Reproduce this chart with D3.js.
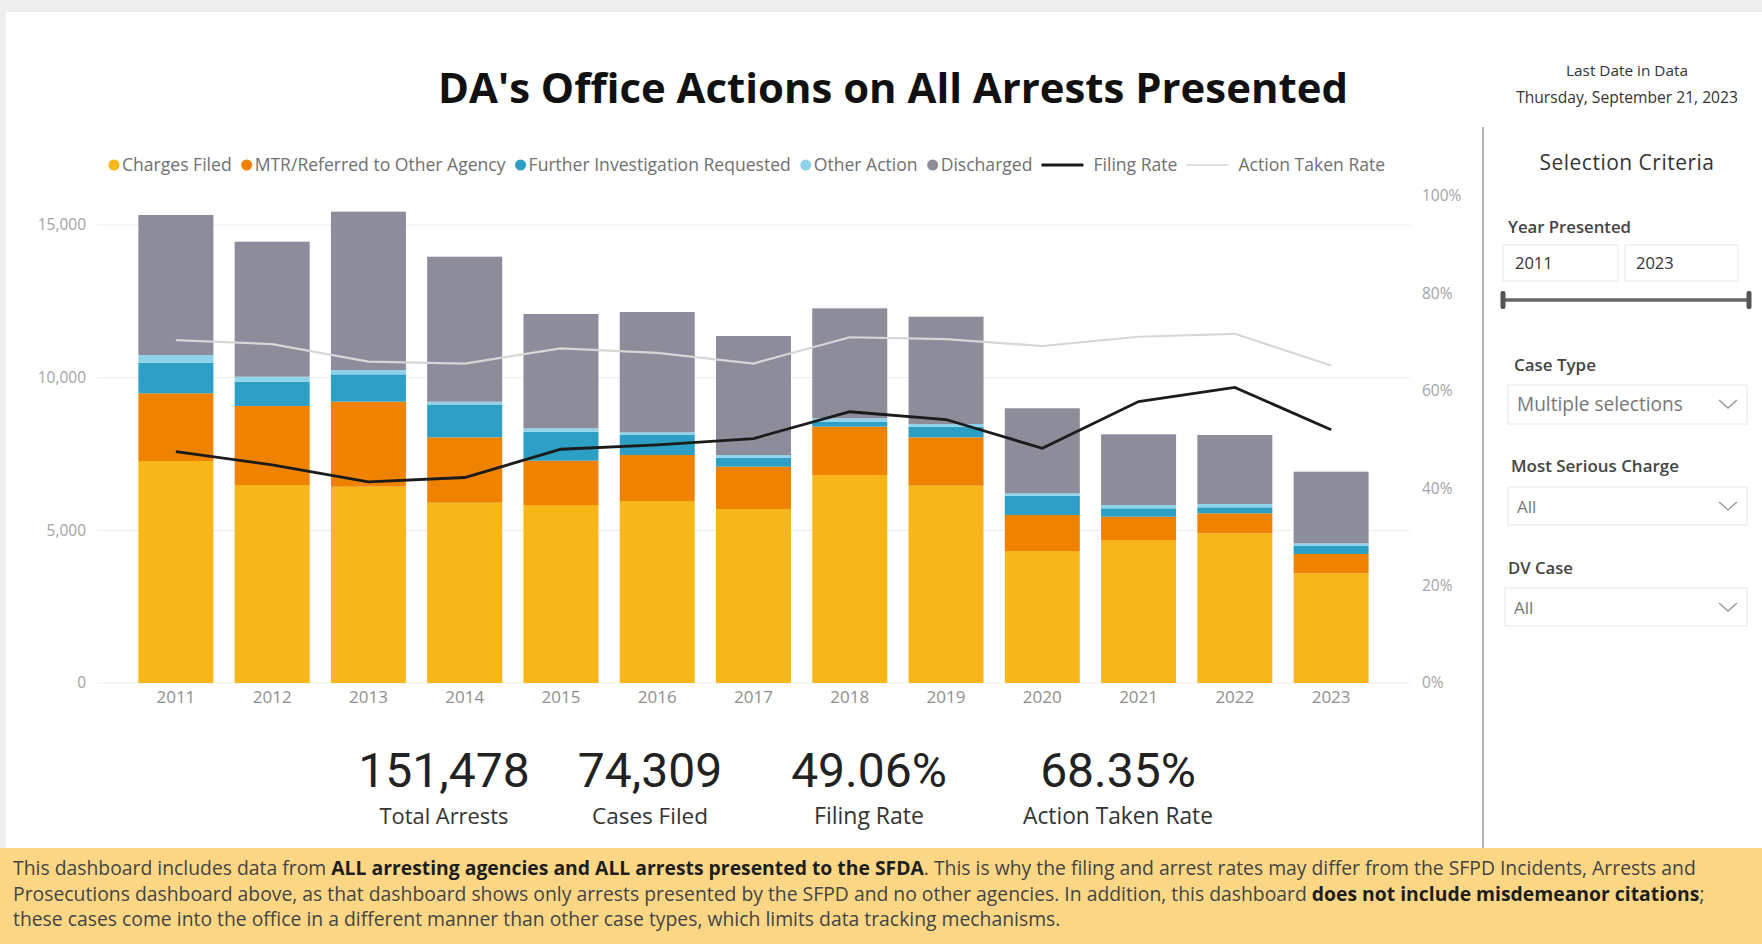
<!DOCTYPE html>
<html>
<head>
<meta charset="utf-8">
<script src="https://cdn.jsdelivr.net/npm/d3@7"></script>
<style>
  html, body { margin: 0; padding: 0; background: #fff; overflow: hidden; }
  svg { display: block; font-family: "Open Sans", sans-serif; }
</style>
</head>
<body>
<svg id="dash" width="1762" height="944"></svg>
<script>
// data
const years = [2011, 2012, 2013, 2014, 2015, 2016, 2017, 2018, 2019, 2020, 2021, 2022, 2023];
const chargesFiled = [7271, 6485, 6430, 5906, 5830, 5961, 5699, 6812, 6462, 4323, 4683, 4902, 3593];
const mtrReferred  = [2217, 2587, 2784, 2140, 1451, 1506, 1385, 1583, 1584, 1179, 764, 655, 632];
const furtherInv   = [1002, 797, 896, 1059, 950, 655, 295, 164, 349, 633, 274, 197, 262];
const otherAction  = [252, 163, 141, 109, 110, 88, 88, 109, 88, 78, 109, 108, 88];
const discharged   = [4586, 4422, 5186, 4749, 3744, 3941, 3898, 3603, 3514, 2784, 2315, 2260, 2346];
const filingRate   = [0.475, 0.448, 0.413, 0.422, 0.480, 0.489, 0.502, 0.557, 0.541, 0.482, 0.578, 0.607, 0.520];
const actionRate   = [0.704, 0.696, 0.660, 0.656, 0.687, 0.678, 0.656, 0.710, 0.706, 0.692, 0.711, 0.717, 0.652];
const leftTicks = [0, 5000, 10000, 15000];
const rightTicks = [0, 0.2, 0.4, 0.6, 0.8, 1.0];
const seriesNames = ["Charges Filed", "MTR/Referred to Other Agency", "Further Investigation Requested", "Other Action", "Discharged"];
const seriesColors = ["#f8b619", "#ef8300", "#2d9ec4", "#8fd3ea", "#8c8c9b"];
const kpiValues = ["151,478", "74,309", "49.06%", "68.35%"];
const kpiLabels = ["Total Arrests", "Cases Filed", "Filing Rate", "Action Taken Rate"];

const svg = d3.select("#dash");

// page background with the grey frame strips
svg.append("rect").attr("width", 1762).attr("height", 944).attr("fill", "#fff");
svg.append("rect").attr("width", 1762).attr("height", 12).attr("fill", "#efefef");
svg.append("rect").attr("width", 6).attr("height", 944).attr("fill", "#efefef");

// scale font size so a text fills a given width
function fitWidth(text, target) {
  let w = text.node().getComputedTextLength();
  let fs = parseFloat(text.style("font-size"));
  text.style("font-size", (fs * target / w) + "px");
}

// title
let title = svg.append("text")
  .attr("x", 893).attr("y", 103)
  .attr("text-anchor", "middle")
  .style("font-size", "38px").style("font-weight", 700)
  .attr("fill", "#111")
  .text("DA's Office Actions on All Arrests Presented");
fitWidth(title, 910);

let lastLbl = svg.append("text").attr("x", 1627).attr("y", 76).attr("text-anchor", "middle")
  .style("font-size", "14px").attr("fill", "#333").text("Last Date in Data");
fitWidth(lastLbl, 122);
let lastDate = svg.append("text").attr("x", 1627).attr("y", 103).attr("text-anchor", "middle")
  .style("font-size", "12.5px").attr("fill", "#333").text("Thursday, September 21, 2023");
fitWidth(lastDate, 222);

// ---- chart ----
const table = years.map((y, i) => ({
  year: y,
  "Charges Filed": chargesFiled[i],
  "MTR/Referred to Other Agency": mtrReferred[i],
  "Further Investigation Requested": furtherInv[i],
  "Other Action": otherAction[i],
  "Discharged": discharged[i]
}));
const stacked = d3.stack().keys(seriesNames)(table);

const xScale = d3.scaleBand()
  .domain(years)
  .range([97, 1410])
  .paddingInner(0.221)
  .paddingOuter(0.43);

const yScale = d3.scaleLinear().domain([0, 15950]).range([683, 196]);
const rScale = d3.scaleLinear().domain([0, 1]).range([683, 196]);

// gridlines
svg.append("g").selectAll("line")
  .data(leftTicks)
  .join("line")
  .attr("x1", 97).attr("x2", 1410)
  .attr("y1", d => yScale(d)).attr("y2", d => yScale(d))
  .attr("stroke", "#ececec").attr("stroke-width", 1);

// left axis
svg.append("g")
  .attr("transform", "translate(86,0)")
  .call(d3.axisLeft(yScale).tickValues(leftTicks).tickFormat(d3.format(",")).tickSize(0).tickPadding(0))
  .call(g => g.select(".domain").remove())
  .selectAll("text")
  .style("font-size", "15.5px").style("font-family", "Open Sans, sans-serif")
  .attr("fill", "#a3a3a3");

// right axis
svg.append("g")
  .attr("transform", "translate(1422,0)")
  .call(d3.axisRight(rScale).tickValues(rightTicks).tickFormat(d3.format(".0%")).tickSize(0).tickPadding(0))
  .call(g => g.select(".domain").remove())
  .selectAll("text")
  .style("font-size", "15.5px").style("font-family", "Open Sans, sans-serif")
  .attr("fill", "#a3a3a3");

// x axis
svg.append("g")
  .attr("transform", "translate(0,687)")
  .call(d3.axisBottom(xScale).tickSize(0).tickPadding(4))
  .call(g => g.select(".domain").remove())
  .selectAll("text")
  .style("font-size", "17px").style("font-family", "Open Sans, sans-serif")
  .attr("fill", "#8f8f8f");

// stacked bars
svg.append("g").selectAll("g")
  .data(stacked)
  .join("g")
  .attr("fill", (d, i) => seriesColors[i])
  .selectAll("rect")
  .data(d => d)
  .join("rect")
  .attr("x", d => xScale(d.data.year))
  .attr("width", xScale.bandwidth())
  .attr("y", d => yScale(d[1]))
  .attr("height", d => yScale(d[0]) - yScale(d[1]));

// rate lines
const rateLine = d3.line()
  .x((d, i) => xScale(years[i]) + xScale.bandwidth() / 2)
  .y(d => rScale(d));

svg.append("path").datum(actionRate)
  .attr("d", rateLine).attr("fill", "none")
  .attr("stroke", "#d6d6d6").attr("stroke-width", 2.2);

svg.append("path").datum(filingRate)
  .attr("d", rateLine).attr("fill", "none")
  .attr("stroke", "#1b1b1b").attr("stroke-width", 2.8);

// legend
const legendItems = seriesNames.map((n, i) => ({ name: n, color: seriesColors[i], type: "dot" }))
  .concat([{ name: "Filing Rate", color: "#1b1b1b", type: "line" },
           { name: "Action Taken Rate", color: "#d6d6d6", type: "line" }]);

let legend = svg.append("g").attr("transform", "translate(108,165)");
function drawLegend(fs) {
  legend.selectAll("*").remove();
  let x = 0;
  legendItems.forEach(it => {
    if (it.type == "dot") {
      legend.append("circle").attr("cx", x + 6).attr("cy", 0).attr("r", 5.5).attr("fill", it.color);
      x += 14;
    } else {
      legend.append("line").attr("x1", x).attr("x2", x + 42).attr("y1", 0).attr("y2", 0)
        .attr("stroke", it.color).attr("stroke-width", it.name == "Filing Rate" ? 3 : 1.5);
      x += 52;
    }
    let t = legend.append("text").attr("x", x).attr("y", 0).attr("dy", "0.35em")
      .style("font-size", fs + "px").attr("fill", "#707070").text(it.name);
    x += t.node().getComputedTextLength() + 9;
  });
  return x - 9;
}
let lw = drawLegend(16);
drawLegend(16 * (1278 - 14 * 5 - 52 * 2 - 54) / (lw - 14 * 5 - 52 * 2 - 54));

// KPI cards
const kpiX = [444, 650, 869, 1118];
const kpiLabelW = [129, 116, 110, 190];
kpiValues.forEach((v, i) => {
  svg.append("text").attr("x", kpiX[i]).attr("y", 787).attr("text-anchor", "middle")
    .style("font-family", "Roboto, sans-serif").style("font-size", "48px")
    .attr("fill", "#222").text(v);
  let l = svg.append("text").attr("x", kpiX[i]).attr("y", 824).attr("text-anchor", "middle")
    .style("font-size", "20px").attr("fill", "#333").text(kpiLabels[i]);
  fitWidth(l, kpiLabelW[i]);
});

// ---- selection panel ----
svg.append("line").attr("x1", 1483).attr("x2", 1483).attr("y1", 127).attr("y2", 870)
  .attr("stroke", "#9a9a9a").attr("stroke-width", 1.5);

let selTitle = svg.append("text").attr("x", 1627).attr("y", 170).attr("text-anchor", "middle")
  .style("font-size", "19px").style("letter-spacing", "0.5px").attr("fill", "#333").text("Selection Criteria");
fitWidth(selTitle, 176);

function panelLabel(x, y, txt, w) {
  let t = svg.append("text").attr("x", x).attr("y", y).style("font-size", "15px")
    .style("font-weight", 600).attr("fill", "#444").text(txt);
  fitWidth(t, w);
}
function box(x, y, w, h) {
  svg.append("rect").attr("x", x).attr("y", y).attr("width", w).attr("height", h)
    .attr("fill", "#fff").attr("stroke", "#e6e6e6");
}
function chevron(cx, cy) {
  svg.append("path").attr("d", `M${cx - 9},${cy - 4}L${cx},${cy + 4}L${cx + 9},${cy - 4}`)
    .attr("fill", "none").attr("stroke", "#999").attr("stroke-width", 1.4);
}

panelLabel(1508, 233, "Year Presented", 123);
box(1503, 245, 115, 36);
box(1625, 245, 113, 36);
svg.append("text").attr("x", 1515).attr("y", 269).style("font-size", "16.5px").attr("fill", "#333").text(years[0]);
svg.append("text").attr("x", 1636).attr("y", 269).style("font-size", "16.5px").attr("fill", "#333").text(years[years.length - 1]);
svg.append("line").attr("x1", 1503).attr("x2", 1749).attr("y1", 300).attr("y2", 300)
  .attr("stroke", "#666").attr("stroke-width", 3.5);
[1503, 1749].forEach(x => svg.append("rect").attr("x", x - 2.5).attr("y", 291).attr("width", 5)
  .attr("height", 18).attr("rx", 2).attr("fill", "#555"));

panelLabel(1514, 371, "Case Type", 82);
box(1508, 385, 239, 39);
let multi = svg.append("text").attr("x", 1517).attr("y", 411).style("font-size", "17px").attr("fill", "#777").text("Multiple selections");
fitWidth(multi, 166);
chevron(1728, 404);

panelLabel(1511, 472, "Most Serious Charge", 168);
box(1508, 487, 239, 38);
svg.append("text").attr("x", 1517).attr("y", 513).style("font-size", "17px").attr("fill", "#777").text("All");
chevron(1728, 506);

panelLabel(1508, 574, "DV Case", 65);
box(1505, 588, 242, 38);
svg.append("text").attr("x", 1514).attr("y", 614).style("font-size", "17px").attr("fill", "#777").text("All");
chevron(1728, 607);

// ---- footer note ----
svg.append("rect").attr("x", 0).attr("y", 848).attr("width", 1762).attr("height", 96).attr("fill", "#fbd785");

const footerLines = [
  [["This dashboard includes data from ", false], ["ALL arresting agencies and ALL arrests presented to the SFDA", true],
   [". This is why the filing and arrest rates may differ from the SFPD Incidents, Arrests and", false]],
  [["Prosecutions dashboard above, as that dashboard shows only arrests presented by the SFPD and no other agencies. In addition, this dashboard ", false],
   ["does not include misdemeanor citations", true], [";", false]],
  [["these cases come into the office in a different manner than other case types, which limits data tracking mechanisms.", false]]
];
const footerY = [875, 901, 926];
let ftexts = footerLines.map((parts, i) => {
  let t = svg.append("text").attr("x", 13).attr("y", footerY[i]).style("font-size", "15px").attr("fill", "#444");
  parts.forEach(p => t.append("tspan").style("font-weight", p[1] ? 700 : 400)
    .attr("fill", p[1] ? "#1e1e1e" : "#444").text(p[0]));
  return t;
});
let fw = ftexts[0].node().getComputedTextLength();
let ffs = 15 * 1684 / fw;
ftexts.forEach(t => t.style("font-size", ffs + "px"));
</script>
</body>
</html>
